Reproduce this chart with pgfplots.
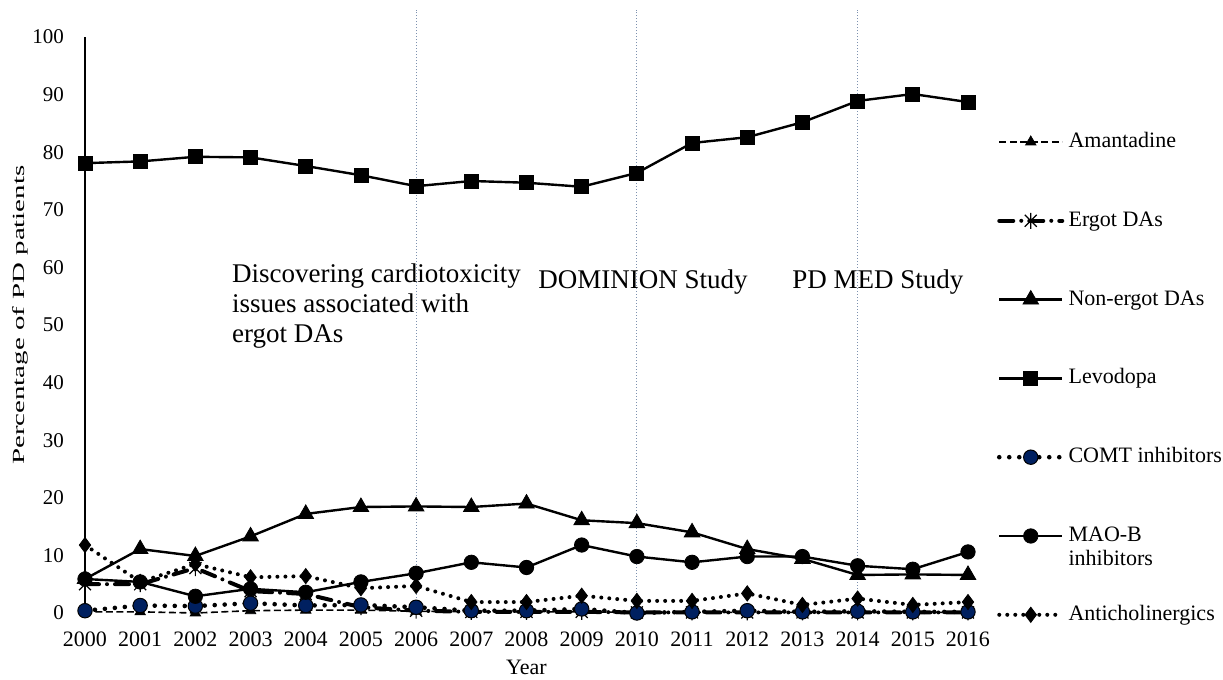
\documentclass[border=0pt]{standalone}
\usepackage{fontspec}
\setmainfont{Liberation Serif}
\usepackage{pgfplots}
\usepackage{pgfplotstable}
\pgfplotsset{compat=1.18}
\definecolor{comt}{RGB}{0,32,96}
\definecolor{vline}{RGB}{125,145,175}

\pgfdeclareplotmark{xstar}{%
 \pgfpathmoveto{\pgfqpoint{0pt}{-\pgfplotmarksize}}%
 \pgfpathlineto{\pgfqpoint{0pt}{\pgfplotmarksize}}%
 \pgfpathmoveto{\pgfqpoint{-0.75\pgfplotmarksize}{-0.75\pgfplotmarksize}}%
 \pgfpathlineto{\pgfqpoint{0.75\pgfplotmarksize}{0.75\pgfplotmarksize}}%
 \pgfpathmoveto{\pgfqpoint{-0.75\pgfplotmarksize}{0.75\pgfplotmarksize}}%
 \pgfpathlineto{\pgfqpoint{0.75\pgfplotmarksize}{-0.75\pgfplotmarksize}}%
 \pgfusepathqstroke}

\pgfplotstableread{
year aman ergot nonergot levo comt maob anti
2000 0.2 5.0 5.9 78.1 0.4 5.9 11.8
2001 0.2 5.0 11.1 78.4 1.3 5.4 5.4
2002 0.0 7.8 9.9 79.2 1.2 2.9 8.5
2003 0.4 3.8 13.3 79.1 1.7 4.2 6.2
2004 0.5 3.3 17.2 77.6 1.3 3.6 6.4
2005 0.5 1.0 18.4 76.0 1.4 5.4 4.3
2006 0.3 0.4 18.5 74.1 1.0 6.9 4.7
2007 0.2 0.2 18.4 75.0 0.4 8.8 1.9
2008 0.2 0.2 19.0 74.7 0.4 7.9 1.9
2009 0.2 0.2 16.1 74.0 0.7 11.8 3.0
2010 0.1 0.1 15.6 76.4 0.0 9.8 2.1
2011 0.1 0.1 14.0 81.6 0.2 8.8 2.1
2012 0.1 0.1 11.1 82.6 0.4 9.8 3.4
2013 0.1 0.1 9.4 85.2 0.2 9.8 1.4
2014 0.1 0.1 6.6 88.9 0.3 8.2 2.5
2015 0.1 0.1 6.7 90.1 0.2 7.6 1.4
2016 0.1 0.1 6.6 88.7 0.2 10.6 1.9
}\data

\begin{document}
\begin{tikzpicture}
\useasboundingbox (-42.5pt,-33.5pt) rectangle (569pt,306.5pt);
\begin{axis}[
 at={(0,0)}, anchor=south west,
 scale only axis, width=441.5pt, height=288pt,
 xmin=2000, xmax=2016, ymin=0, ymax=100,
 clip=false,
 axis lines*=left,
 x axis line style={draw=none},
 y axis line style={line width=1pt},
 major tick length=0pt,
 xtick={2000,2001,...,2016}, ytick={0,10,...,100},
 /pgf/number format/1000 sep={},
 /pgf/number format/assume math mode=true,
 xticklabel style={yshift=-6pt, font=\fontsize{11}{12}\selectfont},
 yticklabel style={xshift=-7pt, font=\fontsize{10.5}{12}\selectfont},
 xlabel={Year},
 xlabel style={at={(axis description cs:0.5,0)}, anchor=north, yshift=-20pt, font=\fontsize{11}{12}\selectfont},
 ylabel={\scalebox{1.7}[1]{Percentage of PD patients}},
 ylabel style={at={(axis description cs:-0.0735,0.517)}, anchor=center, font=\fontsize{8.5}{10}\selectfont},
 legend image code/.code={\draw[mark repeat=2,mark phase=2,#1] plot coordinates {(0pt,0pt)(15.75pt,0pt)(31.5pt,0pt)};},
 legend cell align=left,
 legend style={at={(1.0328,0.8429)}, anchor=north west, draw=none, fill=none,
   inner sep=0pt, outer sep=0pt, row sep=24.9pt, column sep=0pt,
   font=\fontsize{11}{12}\selectfont,
   nodes={text height=8pt, text depth=2.5pt, inner sep=2pt}},
]
\draw[vline, line width=0.6pt, dash pattern=on 0.6pt off 0.9pt] (axis cs:2006,0) -- (axis cs:2006,104.7);
\draw[vline, line width=0.6pt, dash pattern=on 0.6pt off 0.9pt] (axis cs:2010,0) -- (axis cs:2010,104.7);
\draw[vline, line width=0.6pt, dash pattern=on 0.6pt off 0.9pt] (axis cs:2014,0) -- (axis cs:2014,104.7);

\addplot[black, line width=0.8pt, dash pattern=on 3.5pt off 1.75pt, mark=triangle*, mark size=3pt, mark options={solid, line width=0.4pt}] table[x=year,y=aman] {\data};
\addlegendentry{Amantadine}
\addplot[black, line width=2pt, line cap=round, dash pattern=on 7pt off 4pt on 0pt off 4pt, mark=xstar, mark size=4pt, mark options={solid, line width=0.6pt, line cap=butt}] table[x=year,y=ergot] {\data};
\addlegendentry{Ergot DAs}
\addplot[black, line width=1.2pt, mark=triangle*, mark size=4.5pt, mark options={line width=0.4pt}] table[x=year,y=nonergot] {\data};
\addlegendentry{Non-ergot DAs}
\addplot[black, line width=1.2pt, mark=square*, mark size=3.5pt, mark options={line width=0.4pt}] table[x=year,y=levo] {\data};
\addlegendentry{Levodopa}
\addplot[black, line width=2.3pt, line cap=round, dash pattern=on 0pt off 5pt, mark=*, mark size=3.6pt, mark options={solid, fill=comt, draw=black, line width=0.5pt}] table[x=year,y=comt] {\data};
\addlegendentry{COMT inhibitors}
\addplot[black, line width=1.2pt, mark=*, mark size=3.6pt, mark options={line width=0.4pt}] table[x=year,y=maob] {\data};
\addlegendentry{\begin{tabular}[t]{@{}l@{}}MAO-B\\inhibitors\end{tabular}}
\addplot[black, line width=2pt, line cap=round, dash pattern=on 0pt off 4pt, mark=diamond*, mark size=3.8pt, mark options={solid, line width=0.4pt}] table[x=year,y=anti] {\data};
\addlegendentry{Anticholinergics}

\node[anchor=base west, inner sep=0pt, font=\fontsize{13.5}{15}\selectfont] at (axis cs:2002.66,57.3) {\begin{tabular}[t]{@{}l@{}}Discovering cardiotoxicity\\issues associated with\\ergot DAs\end{tabular}};
\node[anchor=base west, inner sep=0pt, font=\fontsize{13.5}{15}\selectfont] at (axis cs:2008.21,56.4) {DOMINION Study};
\node[anchor=base west, inner sep=0pt, font=\fontsize{13.5}{15}\selectfont] at (axis cs:2012.81,56.4) {PD MED Study};
\end{axis}
\end{tikzpicture}
\end{document}
